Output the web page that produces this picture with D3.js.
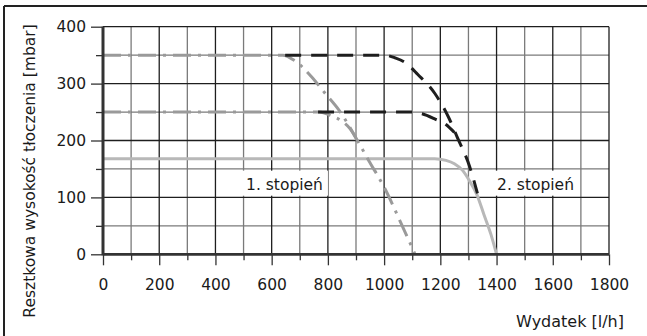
<!DOCTYPE html>
<html>
<head>
<meta charset="utf-8">
<script src="https://cdn.jsdelivr.net/npm/d3@7"></script>
<style>
  html, body { margin: 0; padding: 0; background: #fff; }
  svg { display: block; }
  text { font-family: "DejaVu Sans", sans-serif; fill: #1a1a1a; }
</style>
</head>
<body>
<svg id="chart" width="647" height="336"></svg>
<script>
// ---- data ----
const xTicks = [0, 200, 400, 600, 800, 1000, 1200, 1400, 1600, 1800];
const yTicks = [0, 100, 200, 300, 400];
const xMinor = [100, 300, 500, 700, 900, 1100, 1300, 1500, 1700];
const yMinor = [50, 150, 250, 350];

// stage 1 (grey dash-dot)
const stage1High = [[0,350],[640,350],[680,341],[740,313],[790,283],[840,253],[905,200],[945,165],[1000,118],[1060,55],[1110,0]];
const stage1Low  = [[0,250],[770,250],[810,244],[850,234],[880,220],[905,200]];
// stage 2 (black dashed)
const stage2High = [[648,350],[1000,350],[1040,345],[1075,337],[1120,316],[1180,283],[1230,240],[1260,206],[1305,153],[1332,107]];
const stage2Low  = [[765,250],[1100,250],[1135,247],[1180,238],[1220,228],[1250,214]];
// stage 2 (grey solid)
const stage2Solid = [[0,168],[1180,168],[1220,165],[1250,159],[1280,147],[1305,128],[1330,105],[1355,70],[1380,35],[1400,0]];

const labels = [
  {text: "1. stopień", x: 509, y: 113},
  {text: "2. stopień", x: 1402, y: 113}
];
const xTitle = "Wydatek [l/h]";
const yTitle = "Resztkowa wysokość tłoczenia [mbar]";

// ---- layout ----
const svg = d3.select("#chart");
const x = d3.scaleLinear().domain([0, 1800]).range([103, 609]);
const y = d3.scaleLinear().domain([0, 400]).range([254.3, 26.7]);

// outer frame (top + left)
svg.append("line").attr("x1", 4).attr("x2", 647).attr("y1", 6).attr("y2", 6)
  .attr("stroke", "#222").attr("stroke-width", 2);
svg.append("line").attr("x1", 4).attr("x2", 4).attr("y1", 6).attr("y2", 336)
  .attr("stroke", "#222").attr("stroke-width", 2);

// grid
const g = svg.append("g");
g.selectAll("line.vmin").data(xMinor).join("line")
  .attr("x1", d => x(d)).attr("x2", d => x(d)).attr("y1", y(0)).attr("y2", y(400))
  .attr("stroke", "#7a7a7a").attr("stroke-width", 1.3);
g.selectAll("line.hmin").data(yMinor).join("line")
  .attr("y1", d => y(d)).attr("y2", d => y(d)).attr("x1", x(0)).attr("x2", x(1800))
  .attr("stroke", "#7a7a7a").attr("stroke-width", 1.3);
g.selectAll("line.vmaj").data(xTicks).join("line")
  .attr("x1", d => x(d)).attr("x2", d => x(d)).attr("y1", y(0)).attr("y2", y(400))
  .attr("stroke", "#1e1e1e").attr("stroke-width", 1.3);
g.selectAll("line.hmaj").data(yTicks).join("line")
  .attr("y1", d => y(d)).attr("y2", d => y(d)).attr("x1", x(0)).attr("x2", x(1800))
  .attr("stroke", "#1e1e1e").attr("stroke-width", 1.3);

// axes with ticks
const xAxis = svg.append("g").attr("transform", `translate(0,${y(0)})`)
  .call(d3.axisBottom(x).tickValues(xTicks).tickSize(11).tickPadding(14).tickFormat(d3.format("d")));
const xAxisMinor = svg.append("g").attr("transform", `translate(0,${y(0)})`)
  .call(d3.axisBottom(x).tickValues(xMinor).tickSize(6).tickFormat(""));
const yAxis = svg.append("g").attr("transform", `translate(${x(0)},0)`)
  .call(d3.axisLeft(y).tickValues(yTicks).tickSize(12).tickPadding(5).tickFormat(d3.format("d")));
const yAxisMinor = svg.append("g").attr("transform", `translate(${x(0)},0)`)
  .call(d3.axisLeft(y).tickValues(yMinor).tickSize(7).tickFormat(""));
[xAxis, xAxisMinor, yAxis, yAxisMinor].forEach(a => {
  a.attr("font-size", null).attr("font-family", null);
  a.select(".domain").remove();
  a.selectAll(".tick line").attr("stroke", "#333").attr("stroke-width", 1.3);
  a.selectAll(".tick text").style("font-family", "DejaVu Sans, sans-serif")
    .style("font-size", "15.5px").attr("fill", "#1a1a1a");
});
xAxis.selectAll(".tick text").attr("dy", "0.71em");

// labels with white boxes
const lg = svg.append("g");
labels.forEach(l => {
  const gg = lg.append("g");
  const r = gg.append("rect").attr("fill", "#fff");
  const t = gg.append("text").attr("x", x(l.x)).attr("y", y(l.y))
    .style("font-size", "15.5px").text(l.text);
  const bb = t.node().getBBox();
  r.attr("x", bb.x - 5).attr("y", y(147)).attr("width", bb.width + 10).attr("height", y(103) - y(147));
});

// curves
const line = d3.line().x(d => x(d[0])).y(d => y(d[1])).curve(d3.curveMonotoneX);
const cg = svg.append("g").attr("fill", "none");
cg.append("path").datum(stage2Solid).attr("d", line)
  .attr("stroke", "#b8b8b8").attr("stroke-width", 3);
cg.append("path").datum(stage1Low).attr("d", line)
  .attr("stroke", "#9a9a9a").attr("stroke-width", 3).attr("stroke-dasharray", "18,7,3,7");
cg.append("path").datum(stage1High).attr("d", line)
  .attr("stroke", "#9a9a9a").attr("stroke-width", 3).attr("stroke-dasharray", "18,7,3,7");
cg.append("path").datum(stage2Low).attr("d", line)
  .attr("stroke", "#1e1e1e").attr("stroke-width", 3).attr("stroke-dasharray", "16,10");
cg.append("path").datum(stage2High).attr("d", line)
  .attr("stroke", "#1e1e1e").attr("stroke-width", 3).attr("stroke-dasharray", "16,10");

// thick axis lines
svg.append("line").attr("x1", x(0)).attr("x2", x(0)).attr("y1", y(0) + 1).attr("y2", y(400))
  .attr("stroke", "#333").attr("stroke-width", 3);
svg.append("line").attr("x1", x(0)).attr("x2", x(1800)).attr("y1", y(0)).attr("y2", y(0))
  .attr("stroke", "#333").attr("stroke-width", 2.7);

// axis titles
svg.append("text").attr("x", 624).attr("y", 326.5).attr("text-anchor", "end")
  .style("font-size", "16px").text(xTitle);
svg.append("text").attr("transform", "translate(34.5,171) rotate(-90)").attr("text-anchor", "middle")
  .style("font-size", "15.5px").text(yTitle);
</script>
</body>
</html>
